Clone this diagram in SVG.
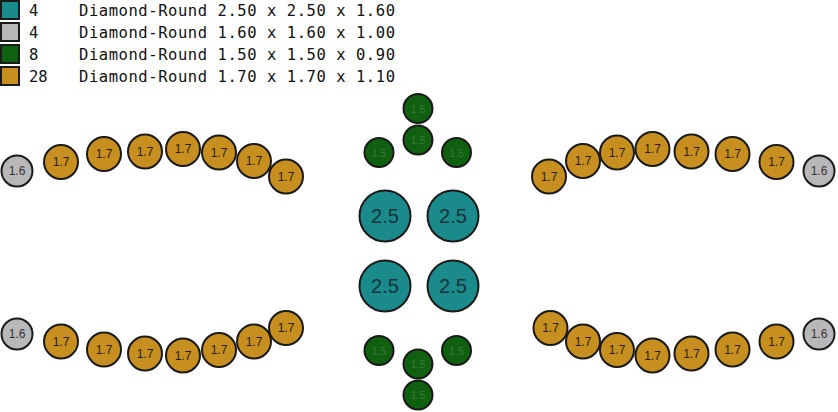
<svg xmlns="http://www.w3.org/2000/svg" width="838" height="412" viewBox="0 0 838 412">
<style>
.bg{fill:#ffffff}
.lg{stroke:#1a1a1a;stroke-width:2}
.lt{font-family:"DejaVu Sans Mono","Liberation Mono",monospace;font-size:15.5px;fill:#111}
circle{stroke:#1a1a1a;stroke-width:2}
.t{fill:#1a8a8a}
.g{fill:#c78f1f}
.e{fill:#0f600f}
.s{fill:#b8b8b8}
text.n{font-family:"Liberation Sans",Arial,sans-serif;text-anchor:middle;dominant-baseline:central}
.nt{font-size:20px;fill:#15343c}
.ng{font-size:12px;fill:#2a1e08}
.ne{font-size:10.5px;fill:#3c7a3c}
.ns{font-size:12px;fill:#333}
</style>
<rect class="bg" x="0" y="0" width="838" height="412"/>
<g id="legend">
<rect class="lg t" x="1" y="1" width="18" height="18"/>
<rect class="lg s" x="1" y="23" width="18" height="18"/>
<rect class="lg e" x="1" y="45" width="18" height="18"/>
<rect class="lg g" x="1" y="67" width="18" height="18"/>
<text class="lt" x="29" y="16">4</text>
<text class="lt" x="29" y="38">4</text>
<text class="lt" x="29" y="60">8</text>
<text class="lt" x="29" y="82">28</text>
<text class="lt" x="79" y="16" textLength="316" lengthAdjust="spacing">Diamond-Round 2.50 x 2.50 x 1.60</text>
<text class="lt" x="79" y="38" textLength="316" lengthAdjust="spacing">Diamond-Round 1.60 x 1.60 x 1.00</text>
<text class="lt" x="79" y="60" textLength="316" lengthAdjust="spacing">Diamond-Round 1.50 x 1.50 x 0.90</text>
<text class="lt" x="79" y="82" textLength="316" lengthAdjust="spacing">Diamond-Round 1.70 x 1.70 x 1.10</text>
</g>
<g id="connectors"></g>
<!-- top left row -->
<g id="s1"><circle class="s" cx="17" cy="171" r="15.5"/><text class="n ns" x="17" y="171">1.6</text></g>
<g id="g1"><circle class="g" cx="61" cy="162" r="17"/><text class="n ng" x="61" y="162">1.7</text></g>
<g id="g2"><circle class="g" cx="104" cy="154" r="17"/><text class="n ng" x="104" y="154">1.7</text></g>
<g id="g3"><circle class="g" cx="145" cy="151.5" r="17"/><text class="n ng" x="145" y="151.5">1.7</text></g>
<g id="g4"><circle class="g" cx="183" cy="149" r="17"/><text class="n ng" x="183" y="149">1.7</text></g>
<g id="g5"><circle class="g" cx="219" cy="152.5" r="17"/><text class="n ng" x="219" y="152.5">1.7</text></g>
<g id="g6"><circle class="g" cx="254" cy="161" r="17"/><text class="n ng" x="254" y="161">1.7</text></g>
<g id="g7"><circle class="g" cx="286" cy="176.5" r="17"/><text class="n ng" x="286" y="176.5">1.7</text></g>
<!-- top right row -->
<g id="g8"><circle class="g" cx="549" cy="176.5" r="17"/><text class="n ng" x="549" y="176.5">1.7</text></g>
<g id="g9"><circle class="g" cx="583" cy="161" r="17"/><text class="n ng" x="583" y="161">1.7</text></g>
<g id="g10"><circle class="g" cx="617" cy="152.5" r="17"/><text class="n ng" x="617" y="152.5">1.7</text></g>
<g id="g11"><circle class="g" cx="652.5" cy="149" r="17"/><text class="n ng" x="652.5" y="149">1.7</text></g>
<g id="g12"><circle class="g" cx="691.5" cy="151.5" r="17"/><text class="n ng" x="691.5" y="151.5">1.7</text></g>
<g id="g13"><circle class="g" cx="732.5" cy="154" r="17"/><text class="n ng" x="732.5" y="154">1.7</text></g>
<g id="g14"><circle class="g" cx="776.5" cy="162" r="17"/><text class="n ng" x="776.5" y="162">1.7</text></g>
<g id="s2"><circle class="s" cx="819" cy="171" r="15.5"/><text class="n ns" x="819" y="171">1.6</text></g>
<!-- center green top -->
<g id="e1"><circle class="e" cx="418" cy="108.5" r="14.5"/><text class="n ne" x="418" y="108.5">1.5</text></g>
<g id="e2"><circle class="e" cx="418" cy="140" r="14.5"/><text class="n ne" x="418" y="140">1.5</text></g>
<g id="e3"><circle class="e" cx="379" cy="152.5" r="14.5"/><text class="n ne" x="379" y="152.5">1.5</text></g>
<g id="e4"><circle class="e" cx="456.5" cy="152.5" r="14.5"/><text class="n ne" x="456.5" y="152.5">1.5</text></g>
<!-- teal -->
<g id="t1"><circle class="t" cx="385" cy="216" r="25.5"/><text class="n nt" x="385" y="216">2.5</text></g>
<g id="t2"><circle class="t" cx="453" cy="216" r="25.5"/><text class="n nt" x="453" y="216">2.5</text></g>
<g id="t3"><circle class="t" cx="385" cy="286" r="25.5"/><text class="n nt" x="385" y="286">2.5</text></g>
<g id="t4"><circle class="t" cx="453" cy="286" r="25.5"/><text class="n nt" x="453" y="286">2.5</text></g>
<!-- center green bottom -->
<g id="e5"><circle class="e" cx="379" cy="350.5" r="14.5"/><text class="n ne" x="379" y="350.5">1.5</text></g>
<g id="e6"><circle class="e" cx="456.5" cy="350.5" r="14.5"/><text class="n ne" x="456.5" y="350.5">1.5</text></g>
<g id="e7"><circle class="e" cx="418" cy="364" r="14.5"/><text class="n ne" x="418" y="364">1.5</text></g>
<g id="e8"><circle class="e" cx="418" cy="395" r="14.5"/><text class="n ne" x="418" y="395">1.5</text></g>
<!-- bottom left row -->
<g id="s3"><circle class="s" cx="17" cy="334" r="15.5"/><text class="n ns" x="17" y="334">1.6</text></g>
<g id="g15"><circle class="g" cx="61" cy="341.5" r="17"/><text class="n ng" x="61" y="341.5">1.7</text></g>
<g id="g16"><circle class="g" cx="104" cy="349.5" r="17"/><text class="n ng" x="104" y="349.5">1.7</text></g>
<g id="g17"><circle class="g" cx="145" cy="353.5" r="17"/><text class="n ng" x="145" y="353.5">1.7</text></g>
<g id="g18"><circle class="g" cx="183" cy="355.5" r="17"/><text class="n ng" x="183" y="355.5">1.7</text></g>
<g id="g19"><circle class="g" cx="219" cy="350" r="17"/><text class="n ng" x="219" y="350">1.7</text></g>
<g id="g20"><circle class="g" cx="254" cy="341.5" r="17"/><text class="n ng" x="254" y="341.5">1.7</text></g>
<g id="g21"><circle class="g" cx="286" cy="328" r="17"/><text class="n ng" x="286" y="328">1.7</text></g>
<!-- bottom right row -->
<g id="g22"><circle class="g" cx="550.5" cy="328" r="17"/><text class="n ng" x="550.5" y="328">1.7</text></g>
<g id="g23"><circle class="g" cx="583" cy="341.5" r="17"/><text class="n ng" x="583" y="341.5">1.7</text></g>
<g id="g24"><circle class="g" cx="617" cy="350" r="17"/><text class="n ng" x="617" y="350">1.7</text></g>
<g id="g25"><circle class="g" cx="652.5" cy="355.5" r="17"/><text class="n ng" x="652.5" y="355.5">1.7</text></g>
<g id="g26"><circle class="g" cx="691.5" cy="353.5" r="17"/><text class="n ng" x="691.5" y="353.5">1.7</text></g>
<g id="g27"><circle class="g" cx="732.5" cy="349.5" r="17"/><text class="n ng" x="732.5" y="349.5">1.7</text></g>
<g id="g28"><circle class="g" cx="776.5" cy="341.5" r="17"/><text class="n ng" x="776.5" y="341.5">1.7</text></g>
<g id="s4"><circle class="s" cx="819" cy="334" r="15.5"/><text class="n ns" x="819" y="334">1.6</text></g>
</svg>
